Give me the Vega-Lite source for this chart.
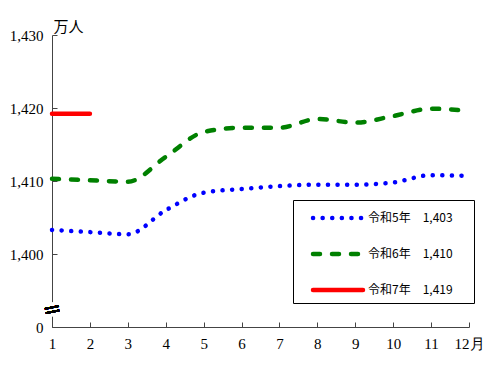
{
  "$schema": "https://vega.github.io/schema/vega-lite/v6.json",
  "width": 417,
  "height": 292,
  "autosize": {"type": "none"},
  "padding": {"left": 52, "top": 35, "right": 31, "bottom": 44},
  "config": {"view": {"stroke": null}, "font": "Noto Sans CJK JP"},
  "data": {
    "values": [
      {"month": 1, "series": "令和5年　1,403", "value": 1403.3},
      {"month": 2, "series": "令和5年　1,403", "value": 1403.0},
      {"month": 3, "series": "令和5年　1,403", "value": 1402.7},
      {"month": 4, "series": "令和5年　1,403", "value": 1406.0},
      {"month": 5, "series": "令和5年　1,403", "value": 1408.4},
      {"month": 6, "series": "令和5年　1,403", "value": 1408.9},
      {"month": 7, "series": "令和5年　1,403", "value": 1409.3},
      {"month": 8, "series": "令和5年　1,403", "value": 1409.5},
      {"month": 9, "series": "令和5年　1,403", "value": 1409.5},
      {"month": 10, "series": "令和5年　1,403", "value": 1409.8},
      {"month": 11, "series": "令和5年　1,403", "value": 1410.8},
      {"month": 12, "series": "令和5年　1,403", "value": 1410.7},
      {"month": 1, "series": "令和6年　1,410", "value": 1410.3},
      {"month": 2, "series": "令和6年　1,410", "value": 1410.1},
      {"month": 3, "series": "令和6年　1,410", "value": 1409.9},
      {"month": 4, "series": "令和6年　1,410", "value": 1413.3},
      {"month": 5, "series": "令和6年　1,410", "value": 1416.7},
      {"month": 6, "series": "令和6年　1,410", "value": 1417.3},
      {"month": 7, "series": "令和6年　1,410", "value": 1417.3},
      {"month": 8, "series": "令和6年　1,410", "value": 1418.5},
      {"month": 9, "series": "令和6年　1,410", "value": 1418.0},
      {"month": 10, "series": "令和6年　1,410", "value": 1418.9},
      {"month": 11, "series": "令和6年　1,410", "value": 1419.9},
      {"month": 12, "series": "令和6年　1,410", "value": 1419.6},
      {"month": 1, "series": "令和7年　1,419", "value": 1419.2},
      {"month": 2, "series": "令和7年　1,419", "value": 1419.2}
    ]
  },
  "layer": [
    {
      "mark": {"type": "line", "interpolate": "monotone", "strokeWidth": 4.5, "strokeCap": "round"},
      "encoding": {
        "x": {
          "field": "month", "type": "quantitative",
          "scale": {"domain": [1, 12], "nice": false, "zero": false},
          "axis": {
            "title": null, "values": [1,2,3,4,5,6,7,8,9,10,11,12], "tickCount": 24,
            "labelExpr": "datum.value == 12 ? '12月' : datum.value",
            "grid": false, "tickSize": -5, "labelPadding": 14, "labelFlush": false,
            "labelOverlap": false,
            "domainColor": "#444", "tickColor": "#444", "labelColor": "#000",
            "labelFont": "Liberation Serif", "labelFontSize": 15
          }
        },
        "y": {
          "field": "value", "type": "quantitative",
          "scale": {"domain": [1390, 1430], "nice": false, "zero": false},
          "axis": {
            "title": "万人", "titleAngle": 0, "titleX": 1, "titleY": -1,
            "titleAlign": "left", "titleBaseline": "bottom", "titleFontSize": 15,
            "titleFontWeight": "normal", "titleColor": "#000",
            "values": [1390, 1400, 1410, 1420, 1430], "tickCount": 10,
            "labelExpr": "datum.value == 1390 ? '0\u2002' : format(datum.value, ',')",
            "grid": false, "tickSize": -5, "labelPadding": 14, "labelOverlap": false,
            "domainColor": "#444", "tickColor": "#444", "labelColor": "#000",
            "labelFont": "Liberation Serif", "labelFontSize": 15
          }
        },
        "color": {
          "field": "series", "type": "nominal",
          "scale": {"domain": ["令和5年　1,403", "令和6年　1,410", "令和7年　1,419"], "range": ["#0000ff", "#008000", "#ff0000"]},
          "legend": {
            "title": "万", "titleOrient": "right", "titlePadding": 4, "titleFontSize": 12,
            "titleColor": "rgba(255,255,255,0)", "titleFontWeight": "normal",
            "orient": "none", "legendX": 241, "legendY": 165,
            "strokeColor": "#000", "fillColor": "#fff", "padding": 4,
            "symbolType": "stroke", "symbolSize": 992, "symbolStrokeWidth": 4.5,
            "rowPadding": 13, "labelOffset": 4, "labelFontSize": 12, "labelColor": "#000",
            "labelLimit": 250,
            "encode": {
              "symbols": {"update": {"size": {"value": 2500}, "strokeCap": {"value": "round"}, "x": {"value": 41}, "y": {"value": 14}}},
              "labels": {"update": {"x": {"value": 71}, "y": {"value": 14}}}
            }
          }
        },
        "strokeDash": {
          "field": "series", "type": "nominal",
          "scale": {"domain": ["令和5年　1,403", "令和6年　1,410", "令和7年　1,419"], "range": [[0.1, 9.5], [7, 12], [1, 0]]},
          "legend": {
            "title": "万", "titleOrient": "right", "titlePadding": 4, "titleFontSize": 12,
            "titleColor": "rgba(255,255,255,0)", "titleFontWeight": "normal",
            "orient": "none", "legendX": 241, "legendY": 165,
            "strokeColor": "#000", "fillColor": "#fff", "padding": 4,
            "symbolType": "stroke", "symbolSize": 992, "symbolStrokeWidth": 4.5,
            "rowPadding": 13, "labelOffset": 4, "labelFontSize": 12, "labelColor": "#000",
            "labelLimit": 250,
            "encode": {
              "symbols": {"update": {"size": {"value": 2500}, "strokeCap": {"value": "round"}, "x": {"value": 41}, "y": {"value": 14}}},
              "labels": {"update": {"x": {"value": 71}, "y": {"value": 14}}}
            }
          }
        }
      }
    },
    {
      "mark": {"type": "rule", "color": "#fff", "strokeWidth": 4},
      "encoding": {
        "x": {"datum": 1, "type": "quantitative"},
        "y": {"datum": 1391.5, "type": "quantitative"},
        "y2": {"datum": 1393.3}
      }
    },
    {
      "mark": {"type": "text", "text": "=", "fontSize": 22, "angle": -12, "color": "#000", "font": "DejaVu Sans"},
      "encoding": {
        "x": {"datum": 1, "type": "quantitative"},
        "y": {"datum": 1392.4, "type": "quantitative"}
      }
    }
  ]
}
